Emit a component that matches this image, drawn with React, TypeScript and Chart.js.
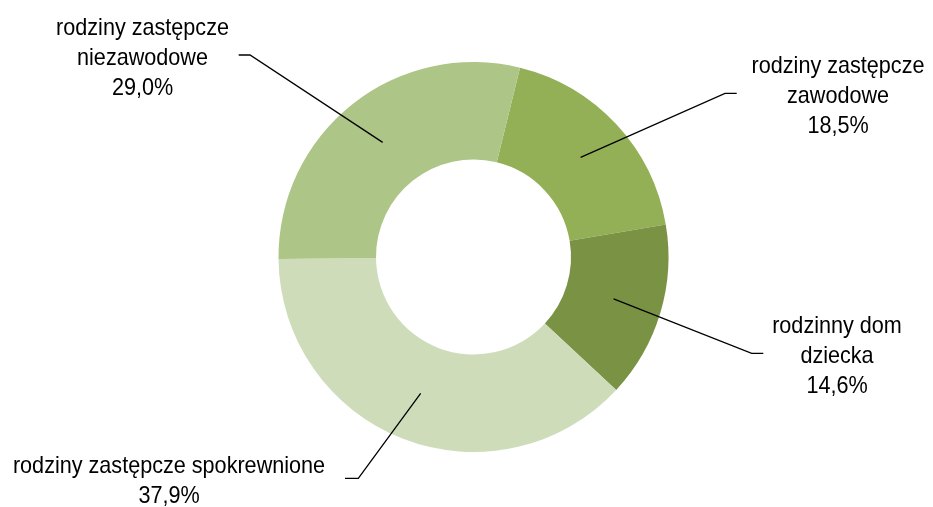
import React, { useEffect, useRef } from "react";
import { Chart, registerables } from "chart.js";

Chart.register(...registerables);

const categories = [
  "rodziny zastępcze zawodowe",
  "rodzinny dom dziecka",
  "rodziny zastępcze spokrewnione",
  "rodziny zastępcze niezawodowe",
];
const values = [18.5, 14.6, 37.9, 29.0];
const labelLines = [
  ["rodziny zastępcze", "zawodowe"],
  ["rodzinny dom", "dziecka"],
  ["rodziny zastępcze spokrewnione"],
  ["rodziny zastępcze", "niezawodowe"],
];
const colors = ["#93B057", "#7A9244", "#CEDCBA", "#ADC687"];

// label layout: text centre x, first baseline y, elbow start x (near text), elbow end x, elbow y
const labelLayout = [
  { tx: 838, ty: 73, ex1: 736.7, ex2: 725, ey: 93.3 },
  { tx: 837, ty: 332.7, ex1: 763.3, ex2: 751.7, ey: 353.3 },
  { tx: 169, ty: 473.3, ex1: 345, ex2: 358.3, ey: 478.3 },
  { tx: 142.5, ty: 35, ex1: 238.7, ex2: 250, ey: 55 },
];

const fmt = (v: number) => v.toFixed(1).replace(".", ",") + "%";

const labelPlugin = {
  id: "leaderLabels",
  afterDraw(chart: any) {
    const ctx = chart.ctx as CanvasRenderingContext2D;
    const meta = chart.getDatasetMeta(0);
    meta.data.forEach((arc: any, i: number) => {
      const p = arc.getCenterPoint();
      const L = labelLayout[i];
      ctx.save();
      ctx.strokeStyle = "#000";
      ctx.lineWidth = 1.3;
      ctx.beginPath();
      ctx.moveTo(p.x, p.y);
      ctx.lineTo(L.ex2, L.ey);
      ctx.lineTo(L.ex1, L.ey);
      ctx.stroke();
      ctx.restore();

      const lines = [...labelLines[i], fmt(values[i])];
      ctx.save();
      ctx.fillStyle = "#000";
      ctx.font = '24px "Liberation Sans", Arial, sans-serif';
      ctx.textAlign = "center";
      ctx.textBaseline = "alphabetic";
      lines.forEach((ln, k) => {
        ctx.save();
        ctx.translate(L.tx, L.ty + k * 30);
        ctx.scale(0.9, 1);
        ctx.fillText(ln, 0, 0);
        ctx.restore();
      });
      ctx.restore();
    });
  },
};

export default function App() {
  const ref = useRef<HTMLCanvasElement>(null);
  useEffect(() => {
    if (!ref.current) return;
    const chart = new Chart(ref.current, {
      type: "doughnut",
      data: {
        labels: categories,
        datasets: [
          {
            data: values,
            backgroundColor: colors,
            borderWidth: 0,
          },
        ],
      },
      options: {
        responsive: false,
        animation: false,
        rotation: 13.8,
        cutout: "50%",
        layout: { padding: { top: 62, bottom: 55, left: 278.5, right: 264.5 } },
        plugins: {
          legend: { display: false },
          tooltip: { enabled: false },
        },
      },
      plugins: [labelPlugin],
    });
    return () => chart.destroy();
  }, []);
  return (
    <div style={{ position: "fixed", left: 0, top: 0, width: 933, height: 507, background: "#fff" }}>
      <canvas ref={ref} width={933} height={507} style={{ display: "block" }} />
    </div>
  );
}
